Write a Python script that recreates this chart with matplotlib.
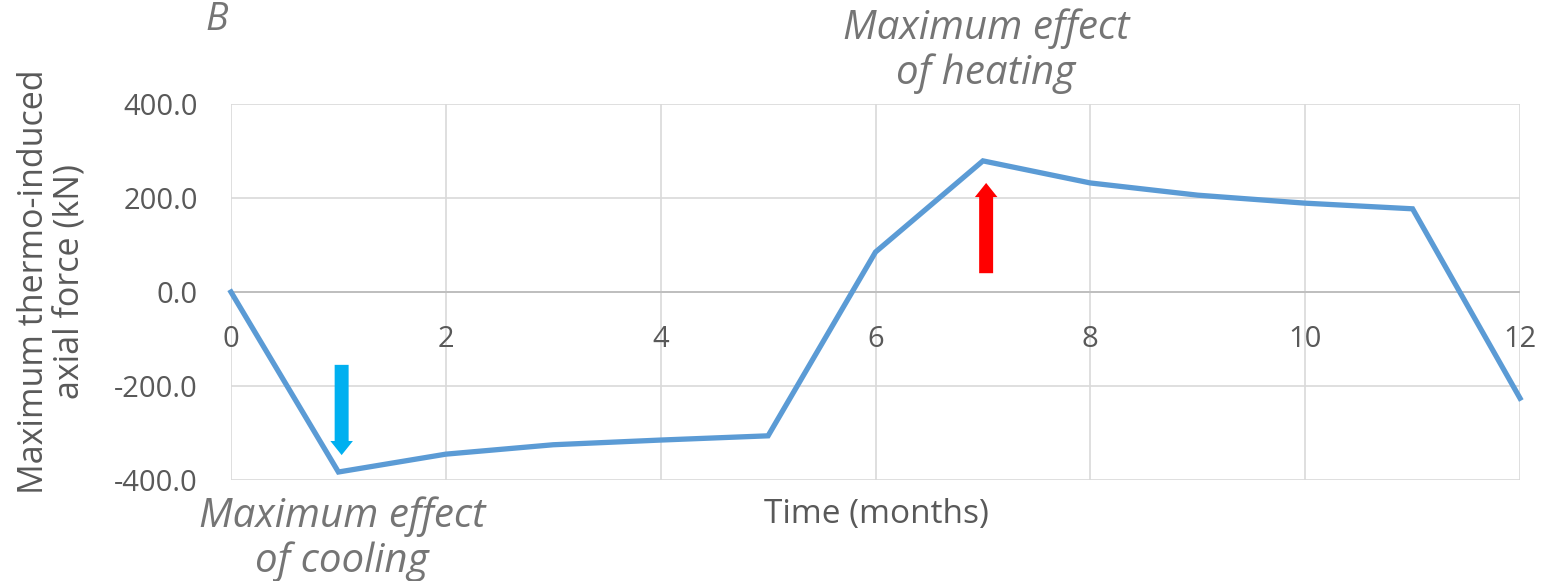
import matplotlib
matplotlib.use("Agg")
import matplotlib.pyplot as plt

# Monthly maximum thermo-induced axial force
months = [0, 1, 2, 3, 4, 5, 6, 7, 8, 9, 10, 11, 12]
axial_force = [0, -383, -345, -325, -315, -306, 85, 279, 232, 206, 189, 177, -226]

x_ticks = [0, 2, 4, 6, 8, 10, 12]
y_ticks = [-400, -200, 0, 200, 400]
y_tick_labels = ["-400.0", "-200.0", "0.0", "200.0", "400.0"]

plt.rcParams["font.family"] = ["Open Sans", "DejaVu Sans"]

W, H = 1558, 581
fig = plt.figure(figsize=(W / 100, H / 100), dpi=100)
left, right, top, bottom = 231, 1520, 104, 480
ax = fig.add_axes([left / W, 1 - bottom / H, (right - left) / W, (bottom - top) / H])

grid_c = "#D9D9D9"
text_c = "#595959"
note_c = "#757575"

ax.set_xlim(0, 12)
ax.set_ylim(-400, 400)
for s in ax.spines.values():
    s.set_visible(False)
for xv in x_ticks:
    ax.axvline(xv, color=grid_c, lw=1.2, zorder=1)
for yv in y_ticks:
    ax.axhline(yv, color=grid_c, lw=1.2, zorder=1)
ax.axhline(0, color="#BFBFBF", lw=1.4, zorder=1.5)

ax.plot(months, axial_force, color="#5B9BD5", lw=3.8, solid_joinstyle="miter", zorder=3, clip_on=False)

ax.set_yticks(y_ticks)
ax.set_yticklabels(y_tick_labels)
ax.tick_params(axis="y", length=0, pad=24, labelsize=21, labelcolor=text_c)
ax.set_xticks([])
for xv in x_ticks:
    ax.annotate(str(xv), xy=(xv, 0), xytext=(0, -24), textcoords="offset points",
                ha="center", va="top", fontsize=21, color=text_c)

fig.text(876 / W, 1 - 514 / H, "Time (months)", ha="center", va="center",
         fontsize=24, color=text_c)
fig.text(52 / W, 1 - 282 / H, "Maximum thermo-induced\naxial force (kN)", ha="center",
         va="center", rotation=90, fontsize=24.5, color=text_c, linespacing=1.05)

# Arrows marking the extremes
ax.arrow(1.03, -155, 0, -162, width=0.13, head_width=0.21, head_length=30,
         length_includes_head=False, color="#00B0F0", lw=0, zorder=4)
ax.arrow(7.03, 40, 0, 162, width=0.13, head_width=0.21, head_length=30,
         length_includes_head=False, color="#FF0000", lw=0, zorder=4)

fig.text(986 / W, 1 - 51 / H, "Maximum effect\nof heating", ha="center", va="center",
         fontsize=29, style="italic", color=note_c, linespacing=1.12)
fig.text(342 / W, 1 - 539 / H, "Maximum effect\nof cooling", ha="center", va="center",
         fontsize=29, style="italic", color=note_c, linespacing=1.12)
fig.text(217 / W, 1 - 30 / H, "B", ha="center", va="baseline", fontsize=27,
         style="italic", color=note_c)

fig.savefig("out.png", dpi=100)
